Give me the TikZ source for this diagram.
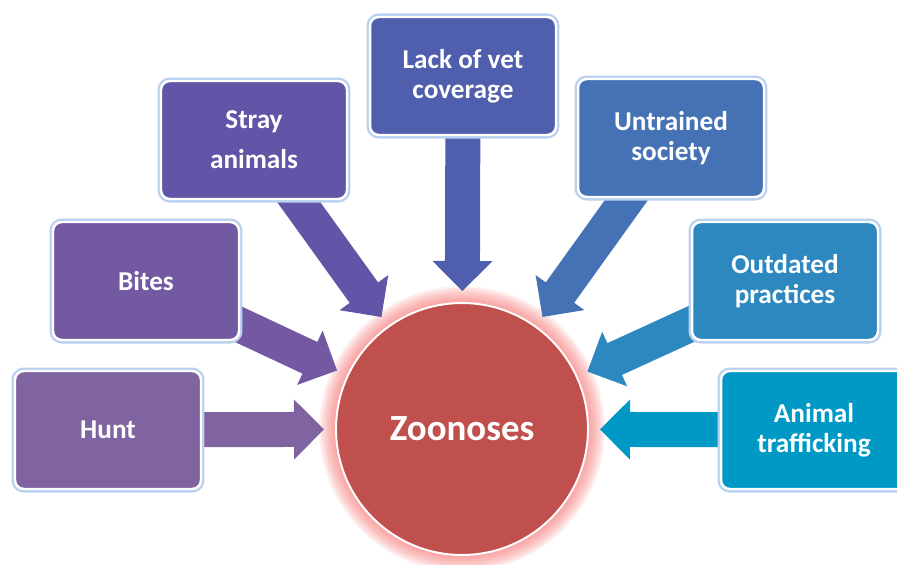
\documentclass[tikz,border=0pt]{standalone}
\usepackage{fontspec}
\setmainfont{Carlito}
\usepackage{tikz}
\usetikzlibrary{calc, backgrounds}
\definecolor{huntpurple}{RGB}{128,100,162}
\definecolor{bitepurple}{RGB}{114,89,161}
\definecolor{straypurple}{RGB}{96,85,166}
\definecolor{vetblue}{RGB}{80,95,173}
\definecolor{trainblue}{RGB}{68,114,180}
\definecolor{practblue}{RGB}{46,136,192}
\definecolor{traffblue}{RGB}{0,153,198}
\definecolor{zoored}{RGB}{192,80,77}
\definecolor{glowred}{RGB}{245,120,118}
\definecolor{glowblue}{RGB}{185,208,240}
\tikzset{every node/.append style={align=center}}
\tikzset{
  cause/.style={rectangle, draw=white, line width=1.4pt, rounded corners=5pt,
    minimum width=3.72cm, minimum height=2.36cm, text=white,
    font=\fontsize{15.5}{16.8}\selectfont\bfseries,
    preaction={draw=glowblue, line width=4pt}},
  hub/.style={circle, draw=white, line width=1.1pt, fill=zoored, minimum size=5.04cm,
    text=white, font=\fontsize{21}{24}\selectfont\bfseries}
}
% block arrow from a cause box towards the hub: colour, box, hub
\newcommand{\causearrow}[3]{%
  \coordinate (tip) at ($(#3)!2.76cm!(#2)$);
  \coordinate (neck) at ($(tip)!0.6cm!(#2)$);
  \fill[#1] ($(#2)!0.35cm!90:(tip)$) -- ($(neck)!0.35cm!90:(tip)$)
    -- ($(neck)!0.6cm!90:(tip)$) -- (tip) -- ($(neck)!0.6cm!-90:(tip)$)
    -- ($(neck)!0.35cm!-90:(tip)$) -- ($(#2)!0.35cm!-90:(tip)$) -- cycle;
}

\begin{document}
\begin{tikzpicture}[x=0.02cm, y=-0.02cm]
  \useasboundingbox (0,0) rectangle (897,565);
  \node[hub] (zoo) at (462,429) {Zoonoses};
  \node[cause, fill=huntpurple] (hunt) at (108,430) {Hunt};
  \node[cause, fill=bitepurple] (bites) at (146,281) {Bites};
  \node[cause, fill=straypurple] (stray) at (254,140) {Stray\\[6pt]animals};
  \node[cause, fill=vetblue] (vet) at (463,76) {Lack of vet\\coverage};
  \node[cause, fill=trainblue] (train) at (671,138) {Untrained\\society};
  \node[cause, fill=practblue] (pract) at (785,281) {Outdated\\practices};
  \node[cause, fill=traffblue] (traff) at (814,430) {Animal\\trafficking};
  \begin{scope}[on background layer]
    \foreach \g in {0.34,0.31,...,0.01}
      \fill[glowred, opacity=0.09] (zoo.center) circle [radius={2.52cm+\g cm}];
    \causearrow{huntpurple}{hunt}{zoo}
    \causearrow{bitepurple}{bites}{zoo}
    \causearrow{straypurple}{stray}{zoo}
    \causearrow{vetblue}{vet}{zoo}
    \causearrow{trainblue}{train}{zoo}
    \causearrow{practblue}{pract}{zoo}
    \causearrow{traffblue}{traff}{zoo}
  \end{scope}
\end{tikzpicture}
\end{document}
